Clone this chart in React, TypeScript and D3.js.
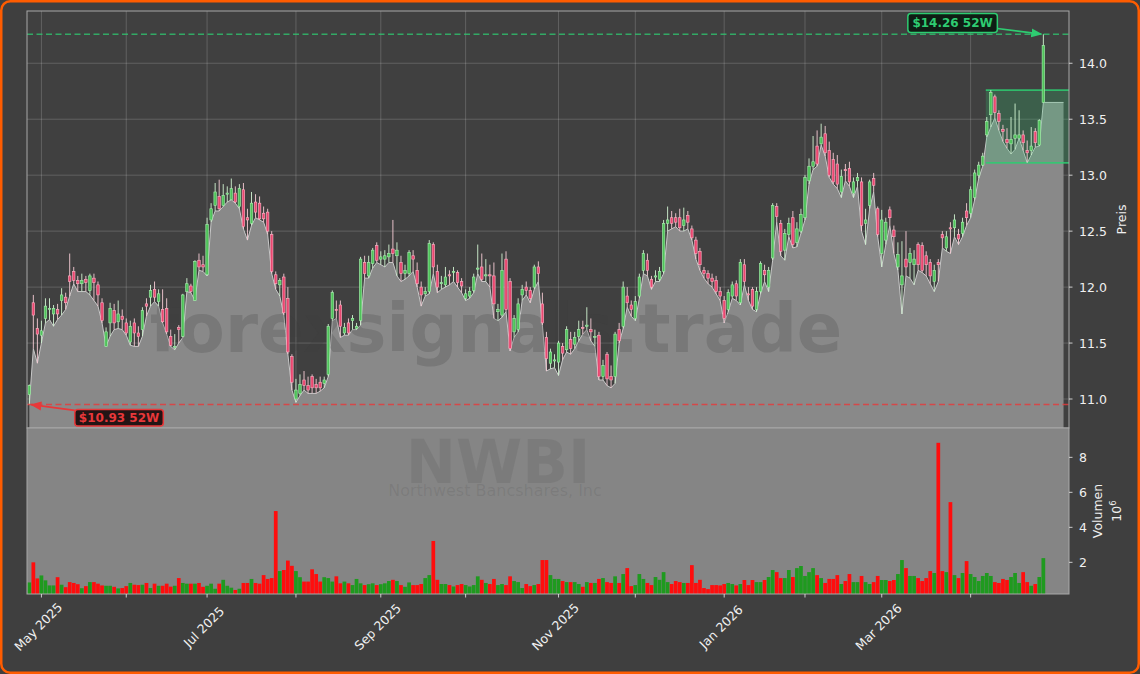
import React from 'react';
import * as d3 from 'd3';

const W = 1140;
const H = 674;

// ---------- data ----------
const tickIndex = [3, 24, 44, 66, 87, 108, 131, 150, 172, 192, 211, 233];
const tickLabels = ['May 2025', '', 'Jul 2025', '', 'Sep 2025', '', 'Nov 2025', '', 'Jan 2026', '', 'Mar 2026', ''];
const priceTicks = [11.0, 11.5, 12.0, 12.5, 13.0, 13.5, 14.0];
const volumeTicks = [2, 4, 6, 8];

const openP = [
  11.04, 11.86, 11.63, 11.57, 11.72, 11.80, 11.76, 11.80, 11.88, 11.91,
  12.10, 12.14, 12.06, 12.03, 12.07, 11.97, 12.08, 12.02, 11.86, 11.47,
  11.68, 11.79, 11.69, 11.74, 11.68, 11.51, 11.68, 11.59, 11.62, 11.85,
  11.91, 11.98, 11.87, 11.80, 11.81, 11.56, 11.46, 11.64, 11.56, 11.96,
  12.01, 11.88, 12.24, 12.20, 12.11, 12.60, 12.73, 12.81, 12.73, 12.83,
  12.78, 12.84, 12.72, 12.87, 12.62, 12.57, 12.76, 12.75, 12.66, 12.67,
  12.47, 12.11, 12.02, 12.09, 11.90, 11.38, 11.00, 11.05, 11.17, 11.12,
  11.20, 11.13, 11.15, 11.14, 11.22, 11.72, 11.80, 11.84, 11.59, 11.68,
  11.70, 11.63, 11.70, 12.22, 12.10, 12.21, 12.37, 12.25, 12.25, 12.27,
  12.34, 12.28, 12.22, 12.12, 12.12, 12.28, 12.15, 12.00, 11.94, 11.96,
  12.38, 12.14, 12.03, 12.02, 12.11, 12.13, 12.13, 12.05, 11.90, 11.92,
  11.97, 12.16, 12.18, 12.10, 12.11, 12.10, 11.78, 11.75, 12.25, 12.05,
  11.60, 11.62, 11.93, 12.00, 11.97, 12.00, 12.18, 11.85, 11.55, 11.32,
  11.34, 11.33, 11.47, 11.44, 11.53, 11.49, 11.56, 11.64, 11.65, 11.62,
  11.55, 11.57, 11.20, 11.40, 11.20, 11.20, 11.62, 11.65, 11.92, 11.84,
  11.72, 11.92, 12.15, 12.24, 12.07, 12.09, 12.07, 12.14, 12.57, 12.62,
  12.62, 12.62, 12.55, 12.64, 12.52, 12.42, 12.32, 12.15, 12.12, 12.08,
  12.06, 11.96, 11.88, 11.80, 11.92, 12.03, 11.86, 12.20, 11.94, 11.98,
  11.80, 11.96, 12.15, 12.00, 12.26, 12.72, 12.57, 12.33, 12.47, 12.62,
  12.40, 12.50, 12.62, 12.95, 13.08, 13.26, 13.28, 13.37, 13.22, 13.14,
  13.10, 12.85, 13.05, 13.06, 12.84, 12.95, 12.94, 12.57, 12.73, 12.97,
  12.70, 12.30, 12.42, 12.69, 12.51, 12.18, 12.02, 12.25, 12.22, 12.20,
  12.38, 12.37, 12.28, 12.22, 12.05, 12.22, 12.47, 12.35, 12.53, 12.53,
  12.47, 12.48, 12.68, 12.66, 12.80, 13.00, 13.09, 13.36, 13.54, 13.70,
  13.55, 13.41, 13.32, 13.28, 13.33, 13.33, 13.36, 13.22, 13.22, 13.39,
  13.27, 13.65,
];

const highP = [
  11.13, 11.93, 11.72, 11.70, 11.90, 11.90, 11.84, 11.85, 11.99, 11.95,
  12.30, 12.18, 12.10, 12.12, 12.10, 12.12, 12.12, 12.05, 11.90, 11.64,
  11.86, 11.85, 11.88, 11.80, 11.72, 11.70, 11.72, 11.65, 11.82, 11.90,
  12.02, 12.05, 11.98, 11.98, 11.90, 11.62, 11.58, 11.66, 11.94, 12.08,
  12.03, 12.24, 12.30, 12.28, 12.62, 12.75, 12.93, 12.96, 12.92, 12.90,
  12.97, 12.90, 12.92, 12.93, 12.70, 12.85, 12.83, 12.81, 12.72, 12.70,
  12.50, 12.14, 12.08, 12.12, 12.00, 11.40, 11.18, 11.22, 11.25, 11.20,
  11.22, 11.18, 11.20, 11.20, 11.67, 11.97, 11.88, 11.88, 11.68, 11.72,
  11.75, 11.68, 12.27, 12.28, 12.28, 12.35, 12.40, 12.32, 12.33, 12.38,
  12.60, 12.40, 12.28, 12.20, 12.33, 12.33, 12.22, 12.05, 12.00, 12.42,
  12.40, 12.20, 12.10, 12.18, 12.15, 12.18, 12.15, 12.08, 11.98, 12.00,
  12.12, 12.38, 12.30, 12.25, 12.20, 12.22, 11.85, 12.30, 12.32, 12.08,
  11.75, 11.90, 12.02, 12.05, 12.00, 12.20, 12.23, 11.95, 11.60, 11.45,
  11.40, 11.52, 11.50, 11.65, 11.60, 11.60, 11.70, 11.70, 11.82, 11.72,
  11.62, 11.60, 11.35, 11.42, 11.30, 11.60, 11.68, 12.05, 12.00, 11.88,
  11.92, 12.12, 12.33, 12.30, 12.10, 12.15, 12.18, 12.60, 12.72, 12.68,
  12.66, 12.70, 12.71, 12.68, 12.55, 12.45, 12.35, 12.18, 12.15, 12.12,
  12.10, 12.00, 11.92, 11.98, 12.05, 12.06, 12.25, 12.25, 12.00, 12.00,
  12.00, 12.23, 12.20, 12.18, 12.75, 12.75, 12.60, 12.52, 12.62, 12.68,
  12.58, 12.70, 13.00, 13.15, 13.35, 13.40, 13.46, 13.44, 13.30, 13.20,
  13.18, 13.05, 13.10, 13.12, 12.98, 13.02, 12.98, 12.70, 12.96, 13.02,
  12.72, 12.69, 12.62, 12.72, 12.55, 12.40, 12.41, 12.50, 12.35, 12.33,
  12.40, 12.40, 12.32, 12.25, 12.20, 12.25, 12.50, 12.50, 12.58, 12.65,
  12.52, 12.62, 12.75, 12.90, 13.05, 13.12, 13.20, 13.52, 13.76, 13.72,
  13.58, 13.45, 13.42, 13.52, 13.64, 13.58, 13.40, 13.31, 13.43, 13.42,
  13.50, 14.26,
];

const lowP = [
  10.95, 11.45, 11.32, 11.50, 11.68, 11.71, 11.65, 11.71, 11.75, 11.80,
  11.92, 12.03, 11.96, 11.96, 11.96, 11.93, 11.88, 11.83, 11.68, 11.47,
  11.56, 11.62, 11.63, 11.62, 11.57, 11.48, 11.47, 11.47, 11.56, 11.74,
  11.83, 11.87, 11.83, 11.68, 11.58, 11.47, 11.44, 11.50, 11.55, 11.96,
  11.95, 11.88, 12.15, 12.14, 12.10, 12.58, 12.68, 12.68, 12.72, 12.76,
  12.78, 12.75, 12.70, 12.52, 12.42, 12.55, 12.62, 12.60, 12.58, 12.47,
  12.12, 11.98, 11.92, 11.75, 11.40, 11.08, 10.97, 11.03, 11.08, 11.05,
  11.05, 11.05, 11.07, 11.10, 11.20, 11.70, 11.72, 11.55, 11.57, 11.57,
  11.62, 11.62, 11.66, 12.08, 12.08, 12.17, 12.22, 12.20, 12.18, 12.22,
  12.22, 12.10, 12.05, 12.07, 12.10, 12.14, 12.00, 11.83, 11.92, 11.94,
  12.12, 11.95, 11.98, 12.00, 12.02, 12.05, 12.00, 11.95, 11.88, 11.90,
  11.95, 12.12, 12.05, 12.05, 12.00, 11.72, 11.70, 11.73, 11.78, 11.43,
  11.55, 11.60, 11.88, 11.93, 11.86, 11.98, 12.05, 11.66, 11.25, 11.27,
  11.28, 11.21, 11.35, 11.42, 11.40, 11.45, 11.52, 11.58, 11.62, 11.52,
  11.47, 11.17, 11.17, 11.12, 11.10, 11.14, 11.50, 11.63, 11.82, 11.74,
  11.70, 11.90, 12.12, 12.10, 11.98, 12.05, 12.05, 12.12, 12.50, 12.52,
  12.54, 12.50, 12.50, 12.52, 12.42, 12.25, 12.15, 12.08, 12.03, 12.00,
  11.94, 11.88, 11.68, 11.78, 11.90, 11.88, 11.84, 12.02, 11.88, 11.80,
  11.78, 11.94, 12.05, 11.96, 12.24, 12.58, 12.28, 12.24, 12.45, 12.35,
  12.36, 12.48, 12.60, 12.92, 13.05, 13.08, 13.27, 13.17, 12.98, 12.92,
  12.88, 12.80, 12.95, 12.90, 12.80, 12.90, 12.50, 12.38, 12.70, 12.85,
  12.45, 12.18, 12.38, 12.55, 12.30, 12.15, 11.76, 12.10, 12.08, 12.02,
  12.15, 12.13, 12.10, 12.03, 11.96, 12.05, 12.35, 12.32, 12.30, 12.45,
  12.38, 12.45, 12.55, 12.62, 12.78, 12.97, 13.08, 13.34, 13.43, 13.51,
  13.40, 13.30, 13.24, 13.19, 13.23, 13.33, 13.22, 13.11, 13.18, 13.25,
  13.26, 13.65,
];

const closeP = [
  11.12, 11.75, 11.58, 11.61, 11.83, 11.81, 11.81, 11.76, 11.93, 11.86,
  12.05, 12.06, 12.03, 12.06, 12.04, 12.10, 12.04, 11.93, 11.70, 11.60,
  11.81, 11.68, 11.76, 11.71, 11.59, 11.65, 11.59, 11.56, 11.79, 11.83,
  11.97, 11.91, 11.94, 11.69, 11.60, 11.48, 11.47, 11.62, 11.93, 12.03,
  11.96, 12.23, 12.18, 12.18, 12.56, 12.70, 12.85, 12.70, 12.82, 12.84,
  12.88, 12.76, 12.88, 12.54, 12.60, 12.75, 12.67, 12.61, 12.61, 12.50,
  12.14, 12.03, 12.06, 11.77, 11.42, 11.15, 11.08, 11.13, 11.12, 11.08,
  11.10, 11.10, 11.10, 11.17, 11.65, 11.95, 11.79, 11.65, 11.64, 11.59,
  11.72, 11.65, 12.25, 12.12, 12.22, 12.33, 12.24, 12.27, 12.28, 12.30,
  12.30, 12.33, 12.12, 12.15, 12.31, 12.25, 12.03, 11.93, 11.96, 12.39,
  12.18, 12.00, 12.04, 12.09, 12.10, 12.14, 12.04, 12.01, 11.94, 11.96,
  12.09, 12.17, 12.07, 12.11, 12.10, 11.85, 11.80, 12.15, 11.80, 11.45,
  11.72, 11.85, 11.98, 11.97, 11.90, 12.18, 12.12, 11.68, 11.36, 11.42,
  11.35, 11.50, 11.41, 11.62, 11.45, 11.55, 11.62, 11.63, 11.66, 11.60,
  11.56, 11.20, 11.30, 11.18, 11.17, 11.58, 11.52, 12.00, 11.86, 11.80,
  11.87, 12.09, 12.30, 12.15, 12.00, 12.10, 12.14, 12.57, 12.60, 12.57,
  12.58, 12.53, 12.60, 12.58, 12.44, 12.30, 12.20, 12.12, 12.08, 12.05,
  11.96, 11.92, 11.72, 11.95, 12.02, 11.92, 12.22, 12.05, 11.93, 11.83,
  11.96, 12.21, 12.11, 12.15, 12.73, 12.63, 12.32, 12.48, 12.57, 12.38,
  12.52, 12.65, 12.98, 13.08, 13.12, 13.10, 13.34, 13.20, 13.00, 12.94,
  12.92, 12.99, 13.04, 12.94, 12.94, 12.98, 12.55, 12.60, 12.94, 12.91,
  12.47, 12.60, 12.58, 12.62, 12.45, 12.29, 12.10, 12.18, 12.30, 12.25,
  12.20, 12.15, 12.20, 12.10, 12.15, 12.20, 12.44, 12.45, 12.52, 12.60,
  12.43, 12.58, 12.62, 12.87, 13.02, 13.09, 13.17, 13.48, 13.74, 13.56,
  13.48, 13.39, 13.29, 13.32, 13.36, 13.36, 13.29, 13.20, 13.26, 13.29,
  13.49, 14.16,
];

// volume in millions of shares
const volumeM = [
  0.85, 2.00, 1.08, 1.25, 0.97, 0.68, 0.68, 1.15, 0.72, 0.58,
  0.87, 0.82, 0.75, 0.52, 0.64, 0.87, 0.87, 0.78, 0.68, 0.66,
  0.66, 0.60, 0.51, 0.53, 0.64, 0.82, 0.72, 0.70, 0.72, 0.82,
  0.53, 0.78, 0.66, 0.66, 0.78, 0.61, 0.66, 1.10, 0.82, 0.78,
  0.78, 0.78, 0.82, 0.60, 0.66, 0.78, 0.49, 0.78, 1.00, 0.66,
  0.55, 0.42, 0.49, 0.82, 0.82, 1.05, 0.82, 0.78, 1.27, 1.05,
  1.10, 4.93, 1.50, 1.56, 2.10, 1.80, 1.50, 1.15, 0.90, 0.90,
  1.60, 1.33, 0.90, 1.15, 1.10, 0.90, 1.20, 0.80, 0.90, 0.80,
  0.70, 1.05, 0.80, 0.70, 0.75, 0.80, 0.70, 0.75, 0.80, 0.93,
  1.00, 0.93, 0.70, 0.60, 0.85, 0.70, 0.70, 0.76, 1.10, 1.27,
  3.22, 1.00, 0.76, 0.76, 0.70, 0.62, 0.70, 0.76, 0.70, 0.62,
  0.70, 1.20, 1.00, 0.82, 0.76, 1.05, 0.70, 0.76, 0.70, 1.20,
  0.93, 0.87, 0.53, 0.76, 0.64, 0.70, 0.76, 2.13, 2.13, 1.27,
  1.05, 1.05, 0.93, 0.87, 0.87, 0.87, 0.76, 0.60, 0.87, 0.82,
  0.82, 1.05, 1.10, 0.87, 0.82, 1.20, 0.82, 1.33, 1.67, 0.64,
  0.70, 1.33, 1.05, 0.82, 0.70, 1.16, 1.00, 1.44, 0.87, 0.76,
  0.93, 0.87, 0.82, 0.82, 1.84, 0.82, 1.00, 0.53, 0.47, 0.70,
  0.70, 0.68, 0.76, 0.82, 0.76, 0.68, 0.76, 0.99, 0.70, 0.99,
  0.87, 0.87, 0.99, 1.16, 1.56, 1.44, 1.10, 1.10, 1.56, 1.16,
  1.67, 1.79, 1.22, 1.44, 1.67, 1.27, 1.10, 0.82, 1.05, 1.05,
  1.27, 0.76, 0.93, 1.33, 0.87, 0.87, 1.22, 0.87, 0.76, 0.87,
  1.22, 0.99, 0.99, 0.93, 0.99, 1.33, 2.13, 1.67, 1.22, 1.22,
  1.10, 0.93, 1.10, 1.50, 1.39, 8.83, 1.50, 1.44, 5.44, 1.27,
  1.10, 1.39, 2.07, 1.33, 1.16, 0.93, 1.22, 1.39, 1.22, 0.87,
  0.82, 1.05, 0.99, 1.16, 1.39, 0.82, 1.44, 0.87, 0.66, 0.76,
  1.16, 2.24,
];

const yearHigh = 14.26;
const yearLow = 10.93;
const rangeStart = 237; // first bar of the recent trading range box
const symbol = 'NWBI';
const companyName = 'Northwest Bancshares, Inc';
const watermark = 'forexsignals.trade';

// ---------- layout ----------
const plotL = 27;
const plotR = 1069;
const priceTop = 11;
const priceBottom = 428;
const volTop = 428;
const volBottom = 594;
const areaPad = 5; // bars the low-area is carried past the last candle

const BG = '#3f3f3f';
const PANEL = '#404040';
const VOLBG = '#858585';
const AREA = '#898989';
const TXT = '#f0f0f0';
const FONT = 'DejaVu Sans, sans-serif';
const UP_FILL = '#4fc35a';
const UP_EDGE = '#a9efb0';
const DN_FILL = '#ea4770';
const DN_EDGE = '#ffb4c6';
const VOL_UP = '#1f9a1f';
const VOL_DN = '#ff0d0d';
const HI_COL = '#2ecc71';
const LO_COL = '#e8383a';

export default function App() {
  const n = closeP.length;
  const x = d3.scaleLinear().domain([-0.57, 257.35]).range([plotL, plotR]);
  const y = d3.scaleLinear().domain([10.741, 14.467]).range([priceBottom, priceTop]);
  const yv = d3.scaleLinear().domain([0.19, 9.676]).range([volBottom, volTop]);
  const step = x(1) - x(0);

  const idx = d3.range(n);
  const areaIdx = [...idx, n - 1 + areaPad];
  const lowAt = (i: number) => lowP[Math.min(i, n - 1)];
  const areaGen = d3.area<number>().x((i) => x(i)).y0(priceBottom).y1((i) => y(lowAt(i)));
  const lineGen = d3.line<number>().x((i) => x(i)).y((i) => y(lowAt(i)));

  const minLow = d3.min(lowP) as number;
  const maxHigh = d3.max(highP) as number;
  const hiIdx = highP.indexOf(maxHigh);
  const loIdx = lowP.indexOf(minLow);
  const boxLow = d3.min(lowP.slice(rangeStart, n - 1)) as number;
  const boxHigh = d3.max(highP.slice(rangeStart, n - 1)) as number;

  const bodyW = step * 0.62;
  const volW = step * 0.92;

  // annotation geometry
  const hiPt = { x: x(hiIdx), y: y(maxHigh) };
  const hiBox = { x: hiPt.x - 135.5, y: hiPt.y - 20.7, w: 89.5, h: 19 };
  const loPt = { x: x(loIdx), y: y(minLow) };
  const loBox = { x: loPt.x + 45.5, y: loPt.y + 4.8, w: 88.5, h: 16.5 };

  return (
    <div style={{ position: 'fixed', left: 0, top: 0, width: W, height: H }}>
      <svg width={W} height={H} viewBox={`0 0 ${W} ${H}`} style={{ display: 'block' }} fontFamily={FONT}>
        <defs>
          <marker id="arrG" viewBox="0 0 10 10" refX="9" refY="5" markerWidth="7" markerHeight="7" orient="auto">
            <path d="M0,1 L10,5 L0,9 z" fill={HI_COL} />
          </marker>
          <marker id="arrR" viewBox="0 0 10 10" refX="9" refY="5" markerWidth="7" markerHeight="7" orient="auto">
            <path d="M0,1 L10,5 L0,9 z" fill={LO_COL} />
          </marker>
          <clipPath id="clipP">
            <rect x={plotL} y={priceTop} width={plotR - plotL} height={priceBottom - priceTop} />
          </clipPath>
        </defs>
        <rect x={0} y={0} width={W} height={H} fill={BG} />

        {/* price panel */}
        <rect x={plotL} y={priceTop} width={plotR - plotL} height={priceBottom - priceTop} fill={PANEL} />
        <g clipPath="url(#clipP)">
          {tickIndex.map((t, k) => (
            <line key={'vg' + k} x1={x(t)} x2={x(t)} y1={priceTop} y2={priceBottom} stroke="#ffffff" strokeOpacity={0.22} strokeWidth={0.8} />
          ))}
          {priceTicks.map((p, k) => (
            <line key={'hg' + k} x1={plotL} x2={plotR} y1={y(p)} y2={y(p)} stroke="#ffffff" strokeOpacity={0.22} strokeWidth={0.8} />
          ))}
          <path d={areaGen(areaIdx) || ''} fill={AREA} />
          <path d={lineGen(areaIdx) || ''} fill="none" stroke="#c8c8c8" strokeWidth={1} />
          <text x={496} y={352} textAnchor="middle" fontSize={67} fontWeight="bold" fill="#3a3a3a" fillOpacity={0.22}>
            {watermark}
          </text>
          {/* recent range box */}
          <rect x={x(rangeStart) - 1} y={y(boxHigh)} width={plotR - x(rangeStart) + 1} height={y(boxLow) - y(boxHigh)} fill={HI_COL} fillOpacity={0.22} />
          <line x1={x(rangeStart) - 1} x2={plotR} y1={y(boxHigh)} y2={y(boxHigh)} stroke={HI_COL} strokeWidth={1.6} strokeOpacity={0.85} />
          <line x1={x(rangeStart) - 1} x2={plotR} y1={y(boxLow)} y2={y(boxLow)} stroke={HI_COL} strokeWidth={1.6} strokeOpacity={0.85} />
          {/* candles */}
          {idx.map((i) => {
            const up = closeP[i] >= openP[i];
            const top = y(Math.max(openP[i], closeP[i]));
            const bot = y(Math.min(openP[i], closeP[i]));
            return (
              <g key={'c' + i}>
                <line x1={x(i)} x2={x(i)} y1={y(highP[i])} y2={y(lowP[i])} stroke={up ? '#d2f5d2' : '#f7cdd6'} strokeWidth={0.9} />
                <rect x={x(i) - bodyW / 2} y={top} width={bodyW} height={Math.max(bot - top, 0.8)} fill={up ? UP_FILL : DN_FILL} stroke={up ? UP_EDGE : DN_EDGE} strokeWidth={0.6} />
              </g>
            );
          })}
          {/* 52 week lines */}
          <line x1={plotL} x2={plotR} y1={y(maxHigh)} y2={y(maxHigh)} stroke={HI_COL} strokeOpacity={0.75} strokeWidth={1.5} strokeDasharray="6,3.5" />
          <line x1={plotL} x2={plotR} y1={y(minLow)} y2={y(minLow)} stroke={LO_COL} strokeOpacity={0.8} strokeWidth={1.5} strokeDasharray="6,3.5" />
        </g>
        <rect x={plotL} y={priceTop} width={plotR - plotL} height={priceBottom - priceTop} fill="none" stroke="#a8a8a8" strokeWidth={1} />

        {/* annotations */}
        <line x1={hiBox.x + hiBox.w} y1={hiBox.y + hiBox.h - 4} x2={hiPt.x - 2} y2={hiPt.y} stroke={HI_COL} strokeWidth={1.6} markerEnd="url(#arrG)" />
        <rect x={hiBox.x} y={hiBox.y} width={hiBox.w} height={hiBox.h} rx={3} fill="#0b1a10" fillOpacity={0.92} stroke={HI_COL} strokeWidth={1.5} />
        <text x={hiBox.x + hiBox.w / 2} y={hiBox.y + hiBox.h / 2 + 4.3} textAnchor="middle" fontSize={12} fontWeight="bold" fill={HI_COL}>
          {`$${yearHigh.toFixed(2)} 52W`}
        </text>
        <line x1={loBox.x} y1={loBox.y + 1} x2={loPt.x + 2} y2={loPt.y} stroke={LO_COL} strokeWidth={1.6} markerEnd="url(#arrR)" />
        <rect x={loBox.x} y={loBox.y} width={loBox.w} height={loBox.h} rx={3} fill="#1a0b0b" fillOpacity={0.92} stroke={LO_COL} strokeWidth={1.5} />
        <text x={loBox.x + loBox.w / 2} y={loBox.y + loBox.h / 2 + 4.3} textAnchor="middle" fontSize={12} fontWeight="bold" fill={LO_COL}>
          {`$${yearLow.toFixed(2)} 52W`}
        </text>

        {/* price axis */}
        {priceTicks.map((p, k) => (
          <g key={'pt' + k}>
            <line x1={plotR} x2={plotR + 3.5} y1={y(p)} y2={y(p)} stroke={TXT} strokeWidth={0.8} />
            <text x={plotR + 10} y={y(p) + 4.5} fontSize={12.5} fill={TXT}>{p.toFixed(1)}</text>
          </g>
        ))}
        <text transform={`translate(${1126},${(priceTop + priceBottom) / 2}) rotate(-90)`} textAnchor="middle" fontSize={12.5} fill={TXT}>Preis</text>

        {/* volume panel */}
        <rect x={plotL} y={volTop} width={plotR - plotL} height={volBottom - volTop} fill={VOLBG} />
        <text x={498} y={483} textAnchor="middle" fontSize={60} fontWeight="bold" fill="#3a3a3a" fillOpacity={0.12}>{symbol}</text>
        <text x={495} y={496} textAnchor="middle" fontSize={16} fill="#3a3a3a" fillOpacity={0.12}>{companyName}</text>
        {idx.map((i) => {
          const up = closeP[i] >= openP[i];
          return (
            <rect key={'v' + i} x={x(i) - volW / 2} y={yv(volumeM[i])} width={volW} height={volBottom - yv(volumeM[i])} fill={up ? VOL_UP : VOL_DN} />
          );
        })}
        <rect x={plotL} y={volTop} width={plotR - plotL} height={volBottom - volTop} fill="none" stroke="#a8a8a8" strokeWidth={1} />
        {volumeTicks.map((v, k) => (
          <g key={'vt' + k}>
            <line x1={plotR} x2={plotR + 3.5} y1={yv(v)} y2={yv(v)} stroke={TXT} strokeWidth={0.8} />
            <text x={plotR + 10} y={yv(v) + 4.5} fontSize={12.5} fill={TXT}>{v}</text>
          </g>
        ))}
        <text transform={`translate(${1102},${(volTop + volBottom) / 2}) rotate(-90)`} textAnchor="middle" fontSize={12.5} fill={TXT}>Volumen</text>
        <text transform={`translate(${1121},${(volTop + volBottom) / 2}) rotate(-90)`} textAnchor="middle" fontSize={12.5} fill={TXT}>
          10<tspan dy={-5} fontSize={8.5}>6</tspan>
        </text>

        {/* date axis */}
        {tickIndex.map((t, k) => (
          <g key={'dt' + k}>
            <line x1={x(t)} x2={x(t)} y1={volBottom} y2={volBottom + 3.5} stroke={TXT} strokeWidth={0.8} />
            {tickLabels[k] && (
              <text transform={`translate(${x(t)},${volBottom + 36}) rotate(-45)`} textAnchor="middle" fontSize={12.5} fill={TXT}>
                {tickLabels[k]}
              </text>
            )}
          </g>
        ))}

        {/* frame */}
        <rect x={1.25} y={1.25} width={W - 2.5} height={H - 2.5} rx={9} fill="none" stroke="#ff5c00" strokeWidth={2.5} />
      </svg>
    </div>
  );
}
